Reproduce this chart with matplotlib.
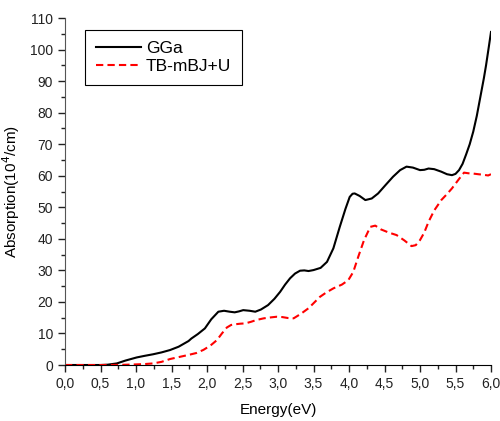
import matplotlib.pyplot as plt
from matplotlib.ticker import MultipleLocator, FuncFormatter

plt.rcParams['font.family'] = ['Liberation Sans', 'DejaVu Sans']

# GGa curve
e_gga = [0.0, 0.3, 0.5, 0.6, 0.73, 0.85, 1.01, 1.12, 1.24, 1.36, 1.48, 1.6, 1.74, 1.78,
         1.87, 1.97, 2.06, 2.16, 2.24, 2.32, 2.39, 2.45, 2.51, 2.6, 2.68, 2.76, 2.86,
         2.95, 3.03, 3.1, 3.17, 3.24, 3.31, 3.37, 3.43, 3.5, 3.6, 3.69, 3.78, 3.87,
         3.95, 4.01, 4.05, 4.08, 4.15, 4.23, 4.32, 4.41, 4.52, 4.62, 4.72, 4.81,
         4.9, 5.0, 5.06, 5.12, 5.2, 5.3, 5.38, 5.45, 5.5, 5.55, 5.6, 5.65, 5.7,
         5.75, 5.8, 5.85, 5.9, 5.93, 5.97, 6.0]
a_gga = [0.0, 0.0, 0.0, 0.1, 0.5, 1.4, 2.4, 2.9, 3.4, 4.0, 4.75, 5.8, 7.6, 8.4,
         9.8, 11.6, 14.5, 16.9, 17.2, 16.9, 16.7, 17.0, 17.4, 17.2, 16.9, 17.6, 19.0,
         21.0, 23.2, 25.5, 27.5, 29.0, 29.9, 30.0, 29.8, 30.1, 30.8, 32.7, 37.0, 43.8,
         49.5, 53.3, 54.3, 54.4, 53.6, 52.3, 52.8, 54.4, 57.2, 59.7, 61.8, 62.9,
         62.6, 61.8, 61.9, 62.3, 62.1, 61.3, 60.5, 60.2, 60.6, 61.8, 63.8, 66.8, 70.0,
         74.0, 79.0, 85.0, 91.0, 95.0, 101.0, 105.6]

# TB-mBJ+U curve
e_mbj = [0.0, 0.5, 0.8, 1.01, 1.12, 1.24, 1.36, 1.48, 1.6, 1.74, 1.85, 1.95, 2.05,
         2.14, 2.21, 2.28, 2.34, 2.39, 2.47, 2.54, 2.62, 2.70, 2.8, 2.9, 2.98, 3.06,
         3.14, 3.22, 3.32, 3.43, 3.51, 3.59, 3.68, 3.78, 3.9, 3.99, 4.06, 4.13, 4.21,
         4.30, 4.37, 4.45, 4.56, 4.67, 4.78, 4.88, 4.94, 5.0, 5.06, 5.12, 5.2, 5.3,
         5.38, 5.45, 5.5, 5.55, 5.62, 5.68, 5.75, 5.82, 5.9, 5.96, 6.0]
a_mbj = [0.0, 0.0, 0.05, 0.2, 0.3, 0.5, 1.0, 1.9, 2.5, 3.2, 3.8, 4.8, 6.2,
         7.9, 10.0, 11.9, 12.7, 12.9, 13.1, 13.2, 13.7, 14.3, 14.8, 15.1, 15.3, 15.2,
         14.9, 14.8, 16.2, 18.0, 19.8, 21.6, 23.0, 24.3, 25.5, 26.9, 29.5, 34.3, 39.5,
         43.8, 44.2, 43.0, 42.0, 41.2, 39.5, 37.7, 38.0, 39.6, 42.0, 45.4, 49.0, 52.3,
         54.2, 56.0, 57.5, 59.0, 61.0, 60.8, 60.7, 60.5, 60.3, 60.1, 60.5]

fig = plt.figure(figsize=(5.0, 4.21), dpi=100)
ax = fig.add_axes([0.13, 0.133, 0.852, 0.824])

ax.plot(e_gga, a_gga, color='black', lw=1.5, label='GGa')
ax.plot(e_mbj, a_mbj, color='red', lw=1.5, ls=(0, (3.5, 2)), label='TB-mBJ+U')

ax.set_xlim(0, 6)
ax.set_ylim(0, 110)
ax.xaxis.set_major_locator(MultipleLocator(0.5))
ax.xaxis.set_minor_locator(MultipleLocator(0.25))
ax.yaxis.set_major_locator(MultipleLocator(10))
ax.yaxis.set_minor_locator(MultipleLocator(5))
ax.xaxis.set_major_formatter(FuncFormatter(lambda v, p: f'{v:.1f}'.replace('.', ',')))

for s in ['top', 'right']:
    ax.spines[s].set_visible(False)
ax.spines['left'].set_color('#555555')
ax.spines['bottom'].set_color('black')
ax.tick_params(which='major', direction='out', length=5, width=1, labelsize=10, colors='#222222')
ax.tick_params(which='minor', direction='out', length=3, width=1, colors='#222222')

ax.set_xlabel('Energy(eV)', fontsize=11, labelpad=9)
ax.set_ylabel('Absorption(10$^4$/cm)', fontsize=11, labelpad=6)

leg = ax.legend(loc='upper left', bbox_to_anchor=(0.027, 0.99), fontsize=12.5,
                fancybox=False, framealpha=1, edgecolor='black', handlelength=2.6,
                handletextpad=0.3, borderpad=0.6, labelspacing=0.2)
leg.get_frame().set_linewidth(0.8)

fig.savefig('out.png', dpi=100)
